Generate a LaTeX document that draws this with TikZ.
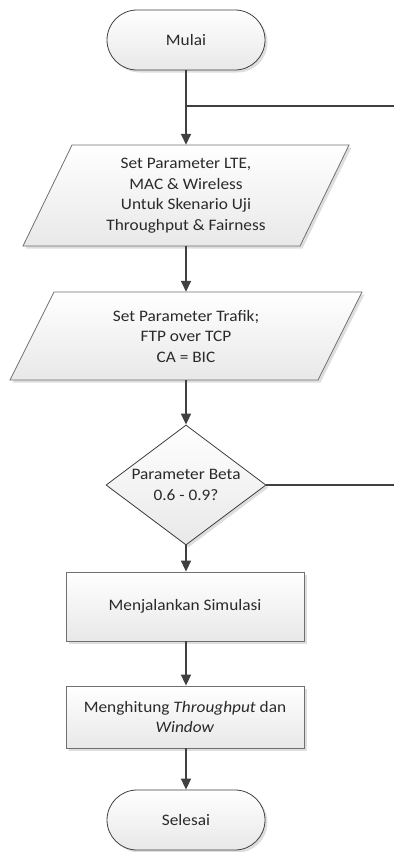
\documentclass[tikz,border=0pt]{standalone}
\usepackage{fontspec}
\setmainfont{Carlito}[FakeStretch=1.08]
\usetikzlibrary{shapes.geometric,shapes.misc,shadows,arrows.meta}
\definecolor{linec}{HTML}{404040}
\definecolor{borderc}{HTML}{707070}
\definecolor{textc}{HTML}{2A2A2A}
\tikzset{
  shfill/.style={top color=white,bottom color=black!9,
    drop shadow={shadow xshift=2.5pt,shadow yshift=-2.5pt,fill=black!13,opacity=1}},
  txt/.style={text=textc,font=\fontsize{16}{20.5}\selectfont,align=center,inner sep=0pt},
  term/.style={rounded rectangle,draw=linec,line width=0.8pt,shfill,txt,minimum width=158pt,minimum height=60pt},
  procbox/.style={rectangle,draw=borderc,line width=0.8pt,shfill,txt,minimum width=238pt},
  decision/.style={diamond,draw=linec,line width=0.8pt,shfill,txt,inner sep=-6pt,shape aspect=1.333,minimum width=160pt,minimum height=120pt},
  parashape/.style={draw=borderc,line width=0.8pt,shfill},
  paratext/.style={txt,minimum width=200pt},
  flow/.style={draw=linec,line width=1.6pt,-{Triangle[length=11pt,width=10pt]}},
  plain/.style={draw=linec,line width=1.6pt}
}
\begin{document}
\begin{tikzpicture}[x=1pt,y=1pt]
\useasboundingbox (0,0) rectangle (394,-852);
% terminals
\node[term] (start) at (186,-40) {Mulai};
% parallelogram 1
\path[parashape] (72,-145) -- (349,-145) -- (300,-246) -- (23,-246) -- cycle;
\node[paratext,minimum height=101pt] (p1) at (186,-195.5) {Set Parameter LTE,\\MAC \& Wireless\\Untuk Skenario Uji\\Throughput \& Fairness};
% parallelogram 2
\path[parashape] (54,-292) -- (362,-292) -- (318,-380) -- (10,-380) -- cycle;
\node[paratext,minimum height=88pt] (p2) at (186,-336) {Set Parameter Trafik;\\FTP over TCP\\CA = BIC};
% decision
\node[decision] (dec) at (186,-485) {Parameter Beta\\0.6 - 0.9?};
% processes
\node[procbox,minimum height=69pt] (sim) at (185,-606.5) {Menjalankan Simulasi};
\node[procbox,minimum height=62pt] (calc) at (185,-717) {Menghitung \textit{Throughput} dan\\\textit{Window}};
\node[term] (stop) at (186,-820) {Selesai};
% connectors
\coordinate (j1) at (186,-106);
\coordinate (e1) at (394,-106);
\coordinate (e2) at (394,-485);
\draw[flow] (start.south) -- (p1.north);
\draw[plain] (j1) -- (e1);
\draw[flow] (p1.south) -- (p2.north);
\draw[flow] (p2.south) -- (dec.north);
\draw[plain] (dec.east) -- (e2);
\draw[flow] (dec.south) -- (sim.north -| dec.south);
\draw[flow] (sim.south -| dec.south) -- (calc.north -| dec.south);
\draw[flow] (calc.south -| dec.south) -- (stop.north);
\end{tikzpicture}
\end{document}
